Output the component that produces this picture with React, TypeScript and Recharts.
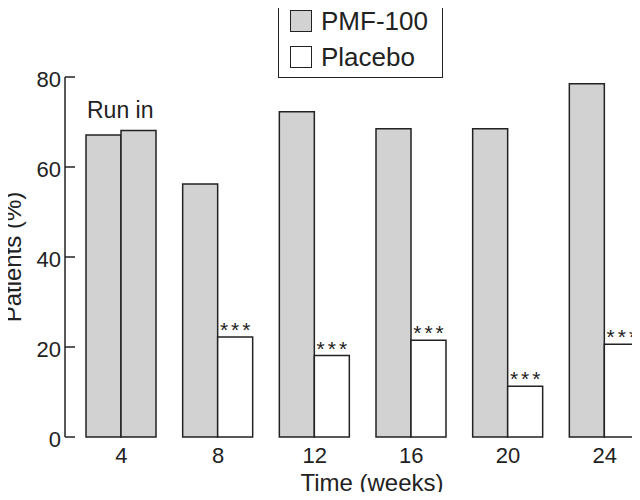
import { BarChart, Bar, XAxis, YAxis, Legend, Cell, LabelList } from 'recharts'

const weeks = ['4', '8', '12', '16', '20', '24']
const pmf100 = [67.1, 56.2, 72.3, 68.5, 68.5, 78.5]
const placebo = [68.1, 22.2, 18.1, 21.5, 11.3, 20.6]
const significance = ['', '***', '***', '***', '***', '***']
const notes = ['Run in', '', '', '', '', '']
const yTicks = [0, 20, 40, 60, 80]

const INK = '#222'
const GREY = '#d2d2d2'
const FONT = '"Liberation Sans", Arial, sans-serif'

const data = weeks.map((week, i) => ({
  week,
  pmf: pmf100[i],
  placebo: placebo[i],
  sig: significance[i],
  note: notes[i],
}))

function YTick(props: any) {
  const { x, y, payload } = props
  return (
    <g>
      <line x1={x + 4} x2={x + 14} y1={y} y2={y} stroke={INK} strokeWidth={1.5} />
      <text x={x} y={y} dy={10} textAnchor="end" fontSize={22} fill={INK} fontFamily={FONT}>
        {payload.value}
      </text>
    </g>
  )
}

function renderLegend(props: any) {
  const items = props.payload ?? []
  return (
    <div
      style={{
        position: 'relative',
        width: 165,
        height: 78,
        border: `1.5px solid ${INK}`,
        boxSizing: 'border-box',
        background: '#fff',
        fontFamily: FONT,
      }}
    >
      {items.map((it: any, i: number) => (
        <div
          key={it.value}
          style={{ position: 'absolute', left: 11, top: 9 + i * 36, display: 'flex', alignItems: 'center' }}
        >
          <span
            style={{
              display: 'inline-block',
              width: 22,
              height: 22,
              background: it.color,
              border: `1.5px solid ${INK}`,
              boxSizing: 'border-box',
            }}
          />
          <span style={{ marginLeft: 9, fontSize: 26, lineHeight: '22px', color: INK }}>{it.value}</span>
        </div>
      ))}
    </div>
  )
}

export default function App() {
  return (
    <div style={{ position: 'relative', width: 640, height: 500, margin: -8, overflow: 'hidden', background: '#fff' }}>
      <BarChart
        width={679}
        height={500}
        data={data}
        margin={{ top: 77, right: 0, left: 0, bottom: 0 }}
        barCategoryGap={13}
        barGap={0}
      >
        <XAxis
          dataKey="week"
          axisLine={false}
          tickLine={false}
          tickSize={0}
          tickMargin={10}
          height={63}
          padding={{ left: 8, right: 26 }}
          tick={{ fill: INK, fontSize: 22, fontFamily: FONT }}
          label={{
            content: ({ viewBox }: any) => (
              <text
                x={viewBox.x + viewBox.width / 2}
                y={viewBox.y + viewBox.height - 9}
                textAnchor="middle"
                fontSize={24}
                fill={INK}
                fontFamily={FONT}
              >
                Time (weeks)
              </text>
            ),
          }}
        />
        <YAxis
          domain={[0, 80]}
          ticks={yTicks}
          width={65}
          axisLine={{ stroke: INK, strokeWidth: 1.5 }}
          tickLine={false}
          tickSize={0}
          tickMargin={4}
          tick={<YTick />}
          label={{
            content: ({ viewBox }: any) => (
              <text
                x={viewBox.x + 21}
                y={viewBox.y + viewBox.height / 2}
                transform={`rotate(-90 ${viewBox.x + 21} ${viewBox.y + viewBox.height / 2})`}
                textAnchor="middle"
                fontSize={24}
                fill={INK}
                fontFamily={FONT}
              >
                Patients (%)
              </text>
            ),
          }}
        />
        <Legend
          layout="horizontal"
          verticalAlign="middle"
          align="center"
          content={renderLegend}
          wrapperStyle={{ top: 0, left: 278, width: 165, height: 78 }}
        />
        <Bar dataKey="pmf" name="PMF-100" fill={GREY} stroke={INK} strokeWidth={1.5} isAnimationActive={false}>
          <LabelList
            dataKey="note"
            content={({ x, y, value }: any) =>
              value ? (
                <text x={x + 1} y={y - 17} fontSize={23} fill={INK} fontFamily={FONT}>
                  {value}
                </text>
              ) : null
            }
          />
        </Bar>
        <Bar dataKey="placebo" name="Placebo" fill="#ffffff" stroke={INK} strokeWidth={1.5} isAnimationActive={false}>
          {data.map((d, i) => (
            <Cell key={d.week} fill={i === 0 ? GREY : '#ffffff'} />
          ))}
          <LabelList
            dataKey="sig"
            content={({ x, y, width, value }: any) =>
              value ? (
                <text
                  x={x + width / 2 + 1.5}
                  y={y}
                  textAnchor="middle"
                  fontSize={21}
                  letterSpacing={3}
                  fill={INK}
                  fontFamily={FONT}
                >
                  {value}
                </text>
              ) : null
            }
          />
        </Bar>
      </BarChart>
    </div>
  )
}
